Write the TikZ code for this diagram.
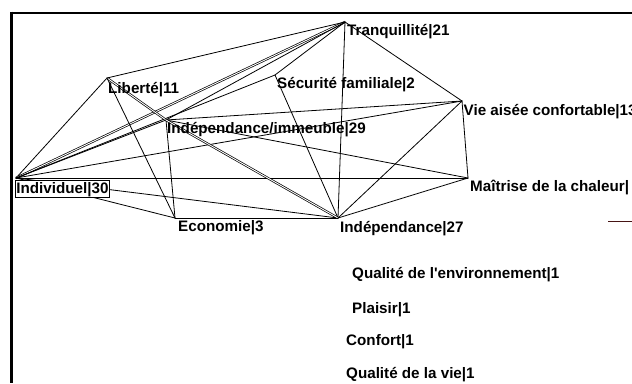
\documentclass[tikz,border=0pt]{standalone}
\usepackage{fontspec}
\setmainfont{Liberation Sans}
\definecolor{dkred}{RGB}{70,20,20}
\begin{document}
\begin{tikzpicture}[x=1pt,y=-1pt,
  lbl/.style={anchor=base west, inner sep=0pt, font=\fontsize{15.2}{18}\selectfont\bfseries},
  edge/.style={line width=0.8pt, line cap=round},
  dbl/.style={line width=0.7pt, double, double distance=0.9pt},
  frame/.style={line width=2.8pt}]
\useasboundingbox (0,0) rectangle (632,383);
\fill[white] (0,0) rectangle (632,383);
% frame
\coordinate (fa) at (10,13);
\coordinate (fb) at (632,13);
\coordinate (fc) at (11.4,11.6);
\coordinate (fd) at (11.4,383);
\draw[frame] (fa) -- (fb);
\draw[frame] (fc) -- (fd);
% node points
\coordinate (pT) at (345,22);
\coordinate (pL) at (107,78);
\coordinate (pS) at (275,75);
\coordinate (pIM) at (166,120);
\coordinate (pV) at (462,101);
\coordinate (pI) at (16,178);
\coordinate (pM) at (468,178);
\coordinate (pE) at (175,218);
\coordinate (pD) at (338,218);
% edges
\draw[edge] (pI) -- (pL);
\draw[dbl] (pI) -- (pT);
\draw[edge] (pI) -- (pS);
\draw[edge] (pI) -- (pIM);
\draw[edge] (pI) -- (pV);
\draw[edge] (pI) -- (pM);
\draw[edge] (pI) -- (pE);
\draw[edge] (pI) -- (pD);
\draw[edge] (pL) -- (pT);
\draw[dbl] (pL) -- (pIM);
\draw[edge] (pL) -- (pE);
\draw[edge] (pT) -- (pIM);
\draw[edge] (pT) -- (pS);
\draw[edge] (pT) -- (pD);
\draw[edge] (pT) -- (pV);
\draw[edge] (pS) -- (pD);
\draw[edge] (pIM) -- (pV);
\draw[edge] (pIM) -- (pM);
\draw[edge] (pIM) -- (pE);
\draw[dbl] (pIM) -- (pD);
\draw[edge] (pV) -- (pM);
\draw[edge] (pV) -- (pD);
\draw[edge] (pM) -- (pD);
\draw[edge] (pE) -- (pD);
% labels
\node[lbl] (nT) at (347,35) {Tranquillité|21};
\node[lbl] (nL) at (108,93) {Liberté|11};
\node[lbl] (nS) at (277,88.5) {Sécurité familiale|2};
\node[lbl] (nIM) at (167,133) {Indépendance/immeuble|29};
\node[lbl] (nV) at (463.5,115) {Vie aisée confortable|13};
\node[lbl] (nM) at (470,191.5) {Maîtrise de la chaleur|};
\node[lbl] (nE) at (178,231.5) {Economie|3};
\node[lbl] (nD) at (340,232) {Indépendance|27};
\node[lbl, draw, fill=white, line width=0.8pt, anchor=north west, inner xsep=1pt, inner ysep=0pt, text height=13.5pt, text depth=3.5pt] (nI) at (15,180) {Individuel|30};
\node[lbl] (q1) at (352,278) {Qualité de l\textquotesingle environnement|1};
\node[lbl] (q2) at (352,313) {Plaisir|1};
\node[lbl] (q3) at (346,345) {Confort|1};
\node[lbl] (q4) at (346,378) {Qualité de la vie|1};
% stray mark at right
\coordinate (sa) at (608,221);
\coordinate (sb) at (632,221);
\draw[dkred, line width=1pt] (sa) -- (sb);
\end{tikzpicture}
\end{document}
